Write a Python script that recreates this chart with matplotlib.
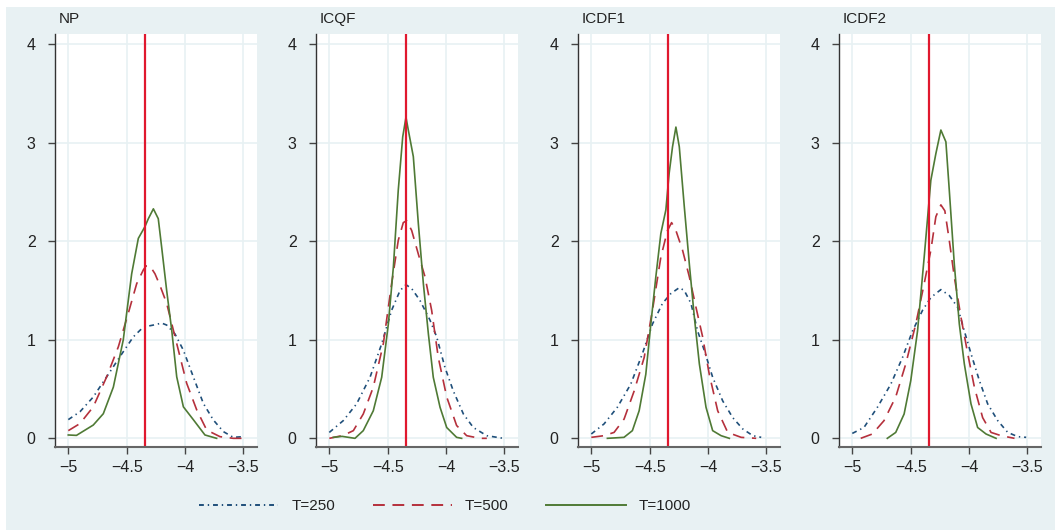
import matplotlib.pyplot as plt
import matplotlib.patches as mpatches
from matplotlib.lines import Line2D

plt.rcParams['font.family'] = ['Liberation Sans', 'DejaVu Sans']
plt.rcParams['lines.scale_dashes'] = False

titles = ['NP', 'ICQF', 'ICDF1', 'ICDF2']
true_value = -4.343
legend_labels = ['T=250', 'T=500', 'T=1000']

# NP
np_x250 = [-5.0, -4.9, -4.786, -4.671, -4.557, -4.443, -4.357, -4.271, -4.2, -4.157, -4.086,
           -4.014, -3.929, -3.843, -3.757, -3.671, -3.586, -3.5]
np_y250 = [0.19, 0.27, 0.42, 0.625, 0.83, 1.03, 1.13, 1.15, 1.17, 1.15, 1.06,
           0.895, 0.625, 0.355, 0.186, 0.068, 0.01, 0.017]
np_x500 = [-5.0, -4.9, -4.786, -4.671, -4.571, -4.486, -4.414, -4.357, -4.334, -4.3, -4.257,
           -4.214, -4.157, -4.1, -4.043, -3.986, -3.9, -3.814, -3.7, -3.586, -3.5]
np_y500 = [0.078, 0.15, 0.32, 0.625, 0.93, 1.27, 1.57, 1.71, 1.75, 1.75, 1.67,
           1.55, 1.37, 1.10, 0.83, 0.56, 0.29, 0.084, 0.017, 0.0, 0.0]
np_x1000 = [-5.0, -4.93, -4.786, -4.70, -4.614, -4.529, -4.457, -4.40, -4.343, -4.314, -4.271,
            -4.229, -4.2, -4.157, -4.114, -4.071, -4.014, -3.929, -3.829, -3.729]
np_y1000 = [0.034, 0.03, 0.135, 0.25, 0.52, 1.0, 1.67, 2.03, 2.15, 2.23, 2.33,
            2.23, 1.94, 1.50, 1.10, 0.625, 0.32, 0.19, 0.034, 0.0]

# ICQF
icqf_x250 = [-5.0, -4.88, -4.766, -4.651, -4.551, -4.466, -4.394, -4.343, -4.294, -4.223, -4.137,
             -4.08, -4.009, -3.937, -3.851, -3.766, -3.651, -3.509]
icqf_y250 = [0.06, 0.18, 0.35, 0.62, 0.96, 1.30, 1.50, 1.56, 1.52, 1.40, 1.20,
             1.03, 0.72, 0.48, 0.247, 0.11, 0.027, 0.0]
icqf_x500 = [-5.0, -4.88, -4.794, -4.709, -4.623, -4.537, -4.466, -4.409, -4.366, -4.337, -4.294,
             -4.237, -4.18, -4.123, -4.066, -3.994, -3.909, -3.823, -3.709, -3.65]
icqf_y500 = [0.0, 0.03, 0.078, 0.247, 0.52, 0.96, 1.57, 2.01, 2.19, 2.21, 2.11,
             1.87, 1.64, 1.30, 0.82, 0.42, 0.13, 0.027, 0.0, 0.0]
icqf_x1000 = [-4.966, -4.89, -4.78, -4.709, -4.623, -4.551, -4.494, -4.451, -4.409, -4.371, -4.343,
              -4.323, -4.28, -4.237, -4.194, -4.151, -4.109, -4.051, -3.994, -3.909, -3.866]
icqf_y1000 = [0.01, 0.02, 0.0, 0.078, 0.28, 0.62, 1.16, 1.74, 2.52, 3.06, 3.26,
              3.13, 2.86, 2.18, 1.57, 1.06, 0.62, 0.315, 0.11, 0.01, 0.0]

# ICDF1
icdf1_x250 = [-5.0, -4.891, -4.777, -4.662, -4.562, -4.476, -4.39, -4.318, -4.246, -4.203, -4.146,
              -4.089, -4.031, -3.96, -3.874, -3.788, -3.702, -3.616, -3.544]
icdf1_y250 = [0.044, 0.146, 0.315, 0.55, 0.86, 1.16, 1.37, 1.47, 1.53, 1.50, 1.37,
              1.09, 0.89, 0.62, 0.38, 0.21, 0.095, 0.027, 0.01]
icdf1_x500 = [-5.0, -4.891, -4.805, -4.719, -4.633, -4.547, -4.476, -4.404, -4.347, -4.312, -4.275,
              -4.218, -4.16, -4.103, -4.046, -3.989, -3.917, -3.831, -3.716, -3.587]
icdf1_y500 = [0.01, 0.027, 0.06, 0.196, 0.48, 0.82, 1.30, 1.84, 2.11, 2.19, 2.11,
              1.91, 1.64, 1.33, 1.03, 0.65, 0.28, 0.06, 0.01, 0.0]
icdf1_x1000 = [-4.862, -4.72, -4.648, -4.59, -4.533, -4.49, -4.447, -4.404, -4.361, -4.333, -4.304,
               -4.275, -4.246, -4.203, -4.16, -4.117, -4.074, -4.017, -3.96, -3.888, -3.817]
icdf1_y1000 = [0.0, 0.01, 0.078, 0.28, 0.65, 1.16, 1.64, 2.08, 2.32, 2.69, 2.96,
               3.16, 2.96, 2.35, 1.77, 1.23, 0.755, 0.315, 0.078, 0.027, 0.0]

# ICDF2
icdf2_x250 = [-5.0, -4.9, -4.785, -4.67, -4.57, -4.484, -4.398, -4.327, -4.241, -4.169, -4.097,
              -4.04, -3.983, -3.911, -3.84, -3.754, -3.668, -3.582, -3.51]
icdf2_y250 = [0.05, 0.11, 0.315, 0.55, 0.82, 1.09, 1.30, 1.43, 1.51, 1.45, 1.33,
              1.09, 0.86, 0.586, 0.35, 0.18, 0.06, 0.017, 0.01]
icdf2_x500 = [-4.928, -4.828, -4.728, -4.628, -4.542, -4.456, -4.384, -4.327, -4.284, -4.241, -4.207,
              -4.169, -4.126, -4.069, -4.011, -3.954, -3.883, -3.811, -3.725, -3.61]
icdf2_y500 = [0.0, 0.044, 0.18, 0.42, 0.755, 1.16, 1.57, 1.91, 2.25, 2.37, 2.31,
              2.01, 1.64, 1.23, 0.86, 0.52, 0.21, 0.06, 0.027, 0.0]
icdf2_x1000 = [-4.70, -4.628, -4.556, -4.499, -4.441, -4.384, -4.327, -4.284, -4.241, -4.198, -4.169,
               -4.126, -4.083, -4.04, -3.983, -3.926, -3.854, -3.768]
icdf2_y1000 = [0.0, 0.06, 0.247, 0.586, 1.09, 1.84, 2.62, 2.89, 3.13, 3.01, 2.52,
               1.77, 1.16, 0.755, 0.35, 0.11, 0.044, 0.0]

panels = [
    [(np_x250, np_y250), (np_x500, np_y500), (np_x1000, np_y1000)],
    [(icqf_x250, icqf_y250), (icqf_x500, icqf_y500), (icqf_x1000, icqf_y1000)],
    [(icdf1_x250, icdf1_y250), (icdf1_x500, icdf1_y500), (icdf1_x1000, icdf1_y1000)],
    [(icdf2_x250, icdf2_y250), (icdf2_x500, icdf2_y500), (icdf2_x1000, icdf2_y1000)],
]

bg = '#e8f1f3'
colors = ['#1f4f7a', '#b5303c', '#4f7a35']
styles = [(0, (3.5, 2.8, 1.0, 2.8)), (0, (8.5, 5.5)), '-']

W, H = 1055, 530
fig = plt.figure(figsize=(W / 100, H / 100), dpi=100, facecolor='white')
fig.patches.append(mpatches.Rectangle((6 / W, 0), 1 - 6 / W, 1 - 7 / H, transform=fig.transFigure,
                                      facecolor=bg, edgecolor='none', zorder=-10))

axis_left = [55, 316, 578, 839]
for i in range(4):
    ax = fig.add_axes([axis_left[i] / W, 1 - 447 / H, 202 / W, 413 / H])
    ax.set_facecolor('white')
    ax.set_xlim(-5.114, -3.383)
    ax.set_ylim(-0.088, 4.105)
    ax.set_xticks([-5, -4.5, -4, -3.5])
    ax.set_xticklabels(['\u22125', '\u22124.5', '\u22124', '\u22123.5'])
    ax.set_yticks([0, 1, 2, 3, 4])
    ax.grid(True, color=bg, lw=1.2)
    ax.set_axisbelow(True)
    for s in ['top', 'right']:
        ax.spines[s].set_visible(False)
    ax.spines['left'].set_color('#333333')
    ax.spines['bottom'].set_color('#666666')
    ax.spines['left'].set_linewidth(1.0)
    ax.spines['bottom'].set_linewidth(1.5)
    ax.tick_params(axis='both', direction='out', length=5, width=1, color='#444444',
                   labelsize=11.5, labelcolor='#222222')
    ax.tick_params(axis='y', pad=9)
    ax.tick_params(axis='x', pad=4.5)
    for (x, y), c, ls in zip(panels[i], colors, styles):
        ax.plot(x, y, color=c, ls=ls, lw=1.2)
    ax.axvline(true_value, color='#e0182e', lw=1.6)
    ax.text(0.02, 1.02, titles[i], transform=ax.transAxes, fontsize=11, color='#222222',
            ha='left', va='bottom')

handles = [Line2D([], [], color=c, ls=ls, lw=1.4) for c, ls in zip(colors, styles)]
fig.legend(handles, legend_labels, loc='center', bbox_to_anchor=(445 / W, 1 - 506 / H), ncol=3,
           frameon=False, fontsize=11, handlelength=5.2, handletextpad=0.85, columnspacing=2.45,
           labelcolor='#222222')

fig.savefig('out.png', dpi=100, facecolor=fig.get_facecolor())
